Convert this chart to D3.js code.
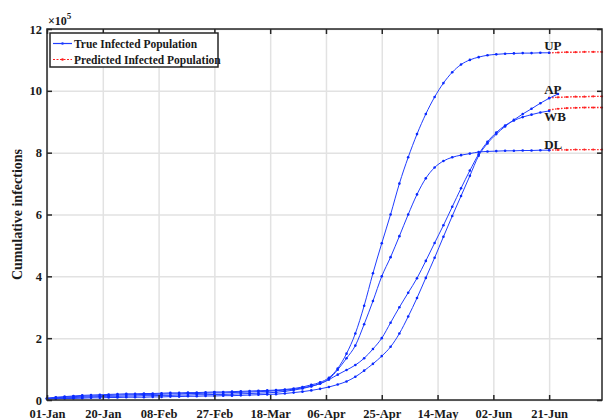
<!DOCTYPE html>
<html>
<head>
<meta charset="utf-8">
<script src="https://cdn.jsdelivr.net/npm/d3@7"></script>
<style>
  body { margin: 0; background: #fff; }
  svg { display: block; }
  text { font-family: "Liberation Serif", "Times New Roman", serif; font-weight: bold; fill: #1a1a1a; }
</style>
</head>
<body>
<svg id="chart" width="604" height="420"></svg>
<script>
const width = 604;
const height = 420;
const margin = {top: 29, right: 2, bottom: 20, left: 47};

// day index since 01-Jan, every 3 days
const days = d3.range(0, 175, 3);
const xTickDays = [0, 19, 38, 57, 76, 95, 114, 133, 152, 171];
const xTickLabels = ["01-Jan", "20-Jan", "08-Feb", "27-Feb", "18-Mar", "06-Apr", "25-Apr", "14-May", "02-Jun", "21-Jun"];
const yTicks = [0, 2, 4, 6, 8, 10, 12];

// true infected population (x10^5)
const upTrue = [0.06,0.09,0.11,0.13,0.15,0.16,0.17,0.18,0.19,0.2,0.2,0.21,0.21,0.22,0.23,0.23,0.24,0.24,0.25,0.26,
  0.26,0.27,0.28,0.29,0.3,0.31,0.32,0.34,0.37,0.42,0.49,0.57,0.72,1.02,1.5,2.15,3.05,4.1,5.07,6.0,
  7.0,7.85,8.6,9.25,9.8,10.25,10.6,10.85,11.0,11.09,11.15,11.18,11.2,11.21,11.22,11.22,11.23,11.23, null];
const apTrue = [0.03,0.04,0.05,0.05,0.06,0.07,0.07,0.08,0.08,0.09,0.09,0.09,0.1,0.1,0.11,0.11,0.12,0.12,0.13,0.13,
  0.14,0.14,0.15,0.16,0.17,0.18,0.19,0.21,0.24,0.27,0.31,0.36,0.42,0.5,0.6,0.75,0.95,1.17,1.42,1.72,
  2.15,2.7,3.3,3.95,4.6,5.28,5.95,6.6,7.25,7.9,8.3,8.6,8.85,9.06,9.25,9.42,9.6,9.76,9.9];
const wbTrue = [0.04,0.05,0.07,0.08,0.09,0.1,0.11,0.12,0.12,0.13,0.13,0.14,0.14,0.15,0.15,0.16,0.16,0.17,0.17,0.18,
  0.18,0.19,0.2,0.21,0.22,0.23,0.25,0.28,0.32,0.37,0.44,0.53,0.66,0.82,0.97,1.13,1.35,1.65,2.0,2.5,
  3.0,3.47,3.94,4.5,5.08,5.65,6.25,6.85,7.42,7.95,8.35,8.65,8.88,9.04,9.15,9.23,9.3,9.35, null];
const dlTrue = [0.05,0.07,0.09,0.11,0.12,0.13,0.14,0.15,0.16,0.17,0.17,0.18,0.18,0.19,0.2,0.2,0.21,0.21,0.22,0.23,
  0.23,0.24,0.25,0.26,0.27,0.28,0.3,0.32,0.35,0.39,0.45,0.53,0.68,0.98,1.35,1.76,2.45,3.2,4.0,4.62,
  5.3,6.0,6.65,7.17,7.52,7.73,7.85,7.92,7.97,8.02,8.04,8.05,8.06,8.06,8.07,8.07,8.08,8.08, null];

// predicted infected population (x10^5)
const predDays = [171, 174, 177, 180, 183, 186, 189];
const upPred = [11.23, 11.24, 11.25, 11.25, 11.26, 11.26, 11.26];
const apPred = [9.78, 9.79, 9.8, 9.81, 9.81, 9.82, 9.82];
const wbPred = [9.38, 9.42, 9.44, 9.45, 9.46, 9.46, 9.46];
const dlPred = [8.08, 8.09, 8.09, 8.1, 8.1, 8.1, 8.1];

const series = [
  {name: "UP", truth: upTrue, pred: upPred, dy: -3},
  {name: "AP", truth: apTrue, pred: apPred, dy: -4},
  {name: "WB", truth: wbTrue, pred: wbPred, dy: 10},
  {name: "DL", truth: dlTrue, pred: dlPred, dy: -1}
];

const x = d3.scaleLinear().domain([0, 189]).range([margin.left, width - margin.right]);
const y = d3.scaleLinear().domain([0, 12]).range([height - margin.bottom, margin.top]);

const svg = d3.select("#chart");
const x0 = x.range()[0], x1 = x.range()[1];
const yb = y.range()[0], yt = y.range()[1];

// grid
svg.append("g")
  .attr("transform", `translate(0,${yb})`)
  .call(d3.axisBottom(x).tickValues(xTickDays).tickSize(-(yb - yt)).tickFormat(""))
  .call(g => g.select(".domain").remove())
  .call(g => g.selectAll("line").attr("stroke", "#e2e2e2").attr("stroke-width", 1.5));
svg.append("g")
  .attr("transform", `translate(${x0},0)`)
  .call(d3.axisLeft(y).tickValues(yTicks).tickSize(-(x1 - x0)).tickFormat(""))
  .call(g => g.select(".domain").remove())
  .call(g => g.selectAll("line").attr("stroke", "#e2e2e2").attr("stroke-width", 1.5));

// curves
const lineGen = d3.line()
  .defined(d => d[1] != null)
  .curve(d3.curveMonotoneX)
  .x(d => x(d[0]))
  .y(d => y(d[1]));

series.forEach(s => {
  const pts = days.map((d, i) => [d, s.truth[i]]).filter(p => p[1] != null);
  const pp = predDays.map((d, i) => [d, s.pred[i]]);

  svg.append("path")
    .attr("d", lineGen(pp))
    .attr("fill", "none")
    .attr("stroke", "#ff2020")
    .attr("stroke-width", 1.4)
    .attr("stroke-dasharray", "1.5,1.5");
  svg.append("g").selectAll("circle")
    .data(pp)
    .join("circle")
    .attr("cx", d => x(d[0]))
    .attr("cy", d => y(d[1]))
    .attr("r", 1.1)
    .attr("fill", "#ff2020");

  svg.append("path")
    .attr("d", lineGen(pts))
    .attr("fill", "none")
    .attr("stroke", "#1f3dff")
    .attr("stroke-width", 1);
  svg.append("g").selectAll("circle")
    .data(pts)
    .join("circle")
    .attr("cx", d => x(d[0]))
    .attr("cy", d => y(d[1]))
    .attr("r", 1.3)
    .attr("fill", "#0a2aff");

  const last = s.truth[days.indexOf(171)];
  svg.append("text")
    .attr("x", x(171) - 5)
    .attr("y", y(last) + s.dy)
    .attr("font-size", 13)
    .text(s.name);
});

// axes (ticks pointing inward)
const axisColor = "#262626";
const styleAxis = g => {
  g.select(".domain").remove();
  g.selectAll("line").attr("stroke", axisColor).attr("stroke-width", 1.5);
  g.selectAll("text")
    .attr("fill", "#1a1a1a")
    .attr("font-size", 12.5)
    .attr("font-family", "'Liberation Serif', 'Times New Roman', serif")
    .attr("font-weight", "bold");
};

svg.append("g")
  .attr("transform", `translate(0,${yb})`)
  .call(d3.axisBottom(x).tickValues(xTickDays).tickSize(-5).tickPadding(9)
    .tickFormat((d, i) => xTickLabels[i]))
  .call(styleAxis);
svg.append("g")
  .attr("transform", `translate(0,${yt})`)
  .call(d3.axisTop(x).tickValues(xTickDays).tickSize(-5).tickFormat(""))
  .call(styleAxis);
svg.append("g")
  .attr("transform", `translate(${x0},0)`)
  .call(d3.axisLeft(y).tickValues(yTicks).tickSize(-5).tickPadding(5))
  .call(styleAxis);
svg.append("g")
  .attr("transform", `translate(${x1},0)`)
  .call(d3.axisRight(y).tickValues(yTicks).tickSize(-5).tickFormat(""))
  .call(styleAxis);

svg.append("rect")
  .attr("x", x0).attr("y", yt)
  .attr("width", x1 - x0).attr("height", yb - yt)
  .attr("fill", "none")
  .attr("stroke", axisColor)
  .attr("stroke-width", 1.5);

// exponent
const expo = svg.append("text").attr("x", x0 + 1).attr("y", yt - 4).attr("font-size", 12).attr("font-weight", "normal");
expo.append("tspan").text("×10");
expo.append("tspan").attr("dy", -6).attr("font-size", 9).attr("font-weight", "bold").text("5");

// y label
svg.append("text")
  .attr("transform", `translate(22,${(yb + yt) / 2}) rotate(-90)`)
  .attr("text-anchor", "middle")
  .attr("font-size", 14)
  .text("Cumulative infections");

// legend
const legend = svg.append("g").attr("transform", `translate(${x0 + 3},${yt + 4})`);
legend.append("rect")
  .attr("width", 168).attr("height", 34)
  .attr("fill", "#fff")
  .attr("stroke", axisColor)
  .attr("stroke-width", 1.5);
const legendItems = [
  {label: "True Infected Population", color: "#1f3dff", dash: null},
  {label: "Predicted Infected Population", color: "#ff2020", dash: "2,1.5"}
];
legendItems.forEach((it, i) => {
  const yy = 10.5 + i * 16;
  legend.append("line")
    .attr("x1", 3).attr("x2", 22).attr("y1", yy).attr("y2", yy)
    .attr("stroke", it.color).attr("stroke-width", 1.2)
    .attr("stroke-dasharray", it.dash);
  legend.append("circle").attr("cx", 12.5).attr("cy", yy).attr("r", 1.3).attr("fill", it.color);
  legend.append("text")
    .attr("x", 24).attr("y", yy + 4)
    .attr("font-size", 11.5)
    .text(it.label);
});
</script>
</body>
</html>
